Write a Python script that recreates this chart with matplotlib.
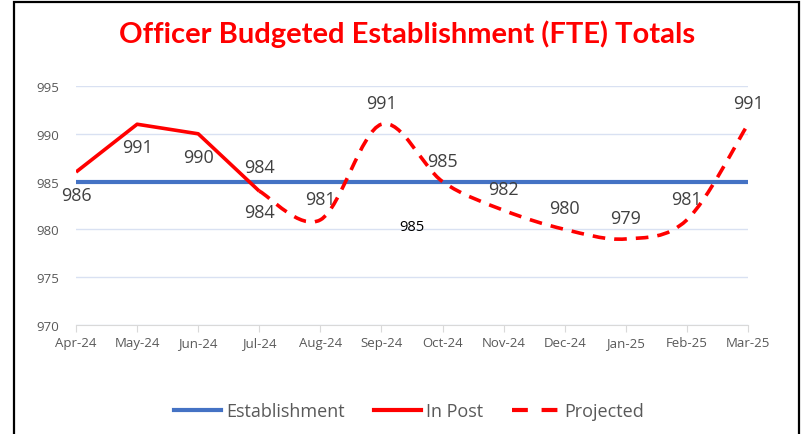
import numpy as np
import matplotlib.pyplot as plt
from matplotlib.path import Path
from matplotlib.patches import PathPatch, Rectangle
from matplotlib.lines import Line2D

plt.rcParams['font.family'] = ['Open Sans', 'DejaVu Sans']

months = ['Apr-24', 'May-24', 'Jun-24', 'Jul-24', 'Aug-24', 'Sep-24',
          'Oct-24', 'Nov-24', 'Dec-24', 'Jan-25', 'Feb-25', 'Mar-25']
establishment = [985] * 12
in_post = [986, 991, 990, 984]
projected = [984, 981, 991, 985, 982, 980, 979, 981, 991]
proj_start = 3

red = '#FF0000'
grey = '#595959'
blue = '#4472C4'


def smooth_path(xs, ys):
    # excel-style smoothed line: cubic bezier through every point
    pts = np.column_stack([xs, ys]).astype(float)
    verts = [pts[0]]
    codes = [Path.MOVETO]
    n = len(pts)
    for i in range(n - 1):
        p0 = pts[max(i - 1, 0)]
        p1 = pts[i]
        p2 = pts[i + 1]
        p3 = pts[min(i + 2, n - 1)]
        verts += [p1 + (p2 - p0) / 6, p2 - (p3 - p1) / 6, p2]
        codes += [Path.CURVE4] * 3
    return Path(verts, codes)


fig = plt.figure(figsize=(8.02, 4.35), dpi=100)
ax = fig.add_axes([0.0948, 0.2506, 0.8379, 0.5494])

x = np.arange(len(months))
ax.set_xlim(0, len(months) - 1)
ax.set_ylim(970, 995)

ax.set_yticks(np.arange(970, 996, 5))
ax.grid(axis='y', color='#D9E1F2', linewidth=1)
ax.set_axisbelow(True)

ax.plot(x, establishment, color=blue, linewidth=3, zorder=3)
ax.plot(x[:len(in_post)], in_post, color=red, linewidth=2.6, zorder=4,
        solid_capstyle='butt')
xp = x[proj_start:proj_start + len(projected)]
ax.add_patch(PathPatch(smooth_path(xp, projected), fill=False, edgecolor=red,
                       linewidth=2.6, linestyle=(0, (3.5, 2.5)), zorder=4,
                       clip_on=False))

lab = dict(fontsize=13, color='#404040', ha='center', va='center')
for i, v in enumerate(in_post):
    dy = 2.5 if i == len(in_post) - 1 else -2.4
    ax.text(x[i], v + dy, str(v), **lab)
for i, v in enumerate(projected):
    dy = -2.2 if i == 0 else 2.2
    ax.text(xp[i], v + dy, str(v), **lab)
ax.text(5.5, 980.3, str(establishment[5]), fontsize=10.5, color='black',
        ha='center', va='center')

ax.set_xticks(x)
ax.set_xticklabels(months)
for s in ['top', 'right', 'left']:
    ax.spines[s].set_visible(False)
ax.spines['bottom'].set_color('#D9D9D9')
ax.tick_params(axis='x', colors='#D9D9D9', labelcolor=grey, labelsize=9.5,
               length=5, pad=3)
ax.tick_params(axis='y', length=0, labelcolor=grey, labelsize=9.5, pad=12)

fig.text(0.507, 0.922, 'Officer Budgeted Establishment (FTE) Totals',
         color=red, fontsize=21, fontweight='bold', ha='center', va='center',
         family=['Lato', 'DejaVu Sans'])

handles = [Line2D([], [], color=blue, linewidth=3),
           Line2D([], [], color=red, linewidth=3),
           Line2D([], [], color=red, linewidth=3, linestyle=(0, (3.8, 3.3)))]
fig.legend(handles, ['Establishment', 'In Post', 'Projected'],
           loc='center', bbox_to_anchor=(0.51, 0.053), ncol=3, frameon=False,
           fontsize=13, labelcolor=grey, handlelength=2.6, columnspacing=1.6,
           handletextpad=0.3)

fig.patches.append(Rectangle((14 / 802, -0.1), 785 / 802, 1.1 - 3 / 435,
                             transform=fig.transFigure, fill=False,
                             edgecolor='black', linewidth=1.6))

fig.savefig('out.png', dpi=100)
